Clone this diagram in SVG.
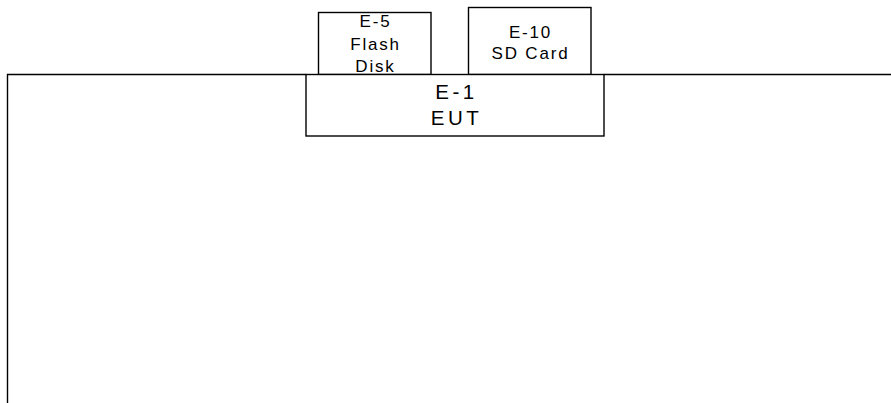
<svg xmlns="http://www.w3.org/2000/svg" width="891" height="403" viewBox="0 0 891 403">
<style>
.box{fill:#fff;stroke:#000;stroke-width:1.4}
.wire{fill:none;stroke:#000;stroke-width:1.4}
.s{font-family:"Liberation Sans",Arial,sans-serif;font-size:17px;letter-spacing:1.8px;text-anchor:middle;fill:#000}
.l{font-family:"Liberation Sans",Arial,sans-serif;font-size:20.5px;letter-spacing:3.5px;text-anchor:middle;fill:#000}
</style>
<rect width="891" height="403" fill="#fff"/>
<g id="connectors">
<path class="wire" d="M7.5,403 V74.5 H306 M604,74.5 H891"/>
</g>
<g id="E-5">
<rect class="box" x="318.5" y="12.5" width="112.5" height="62"/>
<text class="s" x="375.5" y="27">E-5</text>
<text class="s" x="375.5" y="50">Flash</text>
<text class="s" x="375.5" y="72">Disk</text>
</g>
<g id="E-10">
<rect class="box" x="468.5" y="7.5" width="122.5" height="67"/>
<text class="s" x="530.5" y="37.5">E-10</text>
<text class="s" x="530.5" y="59">SD Card</text>
</g>
<g id="E-1">
<rect class="box" x="306" y="74.5" width="298" height="61.5"/>
<text class="l" x="456.5" y="98.5">E-1</text>
<text class="l" x="456.5" y="125">EUT</text>
</g>
</svg>
